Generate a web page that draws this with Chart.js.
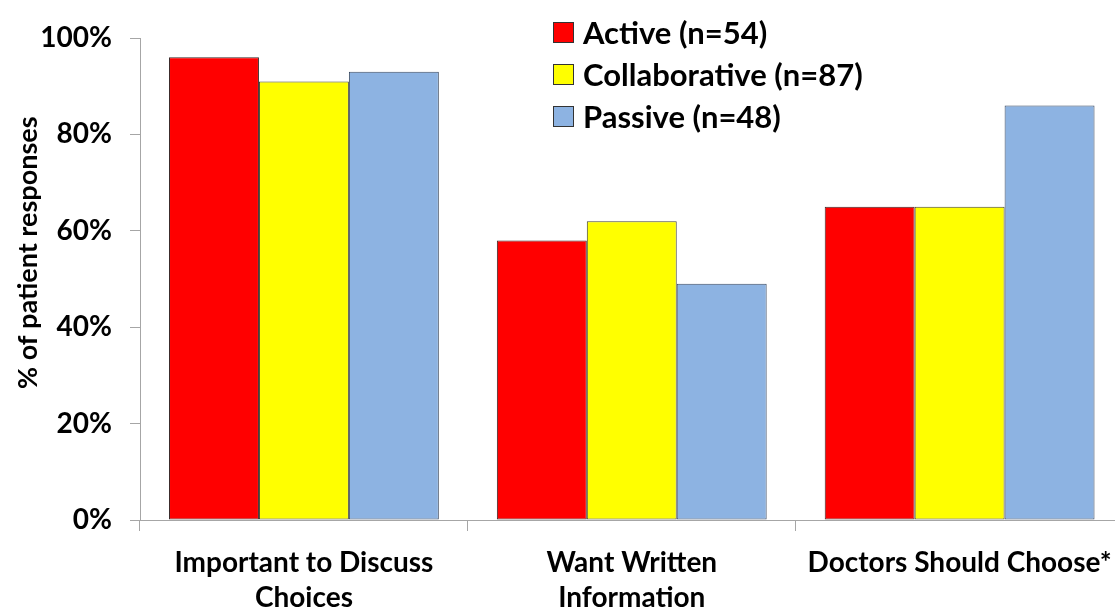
<!DOCTYPE html>
<html>
<head>
<meta charset="utf-8">
<script src="https://cdn.jsdelivr.net/npm/chart.js@4.4.1/dist/chart.umd.min.js"></script>
<style>
    html, body { margin: 0; padding: 0; background: #fff; overflow: hidden; }
    #wrap { position: relative; width: 1126px; height: 610px; }
    #legend { position: absolute; left: 553px; top: 11px; font: bold 31px Lato, sans-serif; color: #000; }
    .row { display: flex; align-items: center; height: 42px; }
    .box { width: 19px; height: 19px; border: 1px solid #333; margin-right: 9px; box-sizing: content-box; }
</style>
</head>
<body>
<div id="wrap">
    <canvas id="barChart"></canvas>
    <div id="legend"></div>
</div>
<script>
var categories = [['Important to Discuss', 'Choices'], ['Want Written', 'Information'], ['Doctors Should Choose*']];
var seriesNames = ['Active (n=54)', 'Collaborative (n=87)', 'Passive (n=48)'];
var activeValues = [96, 58, 65];
var collaborativeValues = [91, 62, 65];
var passiveValues = [93, 49, 86];
var yTickValues = [0, 20, 40, 60, 80, 100];
var seriesColors = ['#ff0000', '#ffff00', '#8db3e2'];
var seriesBorders = ['#3a2a2a', '#444433', '#3b4a60'];

Chart.defaults.font.family = 'Lato, sans-serif';
Chart.defaults.color = '#000';

var seriesData = [activeValues, collaborativeValues, passiveValues];
var datasets = seriesNames.map(function (name, i) {
    return {
        label: name,
        data: seriesData[i],
        backgroundColor: seriesColors[i],
        borderColor: seriesBorders[i],
        borderWidth: 1,
        borderSkipped: false,
        categoryPercentage: 0.823,
        barPercentage: 1.0
    };
});

// legend as plain html, stacked in the top-right of the plot
var legendEl = document.getElementById('legend');
seriesNames.forEach(function (name, i) {
    var row = document.createElement('div');
    row.className = 'row';
    var box = document.createElement('span');
    box.className = 'box';
    box.style.background = seriesColors[i];
    var txt = document.createElement('span');
    txt.textContent = name;
    row.appendChild(box);
    row.appendChild(txt);
    legendEl.appendChild(row);
});

var ctx = document.getElementById('barChart').getContext('2d');
new Chart(ctx, {
    type: 'bar',
    data: {
        labels: categories,
        datasets: datasets
    },
    options: {
        responsive: true,
        maintainAspectRatio: false,
        animation: false,
        layout: { padding: { top: 38, right: 2, left: 0, bottom: 0 } },
        plugins: {
            legend: { display: false },
            tooltip: { enabled: false }
        },
        scales: {
            x: {
                grid: {
                    offset: true,
                    drawOnChartArea: false,
                    color: '#a6a6a6',
                    tickLength: 11
                },
                border: { color: '#a6a6a6', width: 1 },
                ticks: {
                    color: '#000',
                    padding: 14,
                    maxRotation: 0,
                    font: { size: 28, weight: 'bold', lineHeight: 1.25 }
                },
                afterFit: function (scale) { scale.height = 90; }
            },
            y: {
                min: 0,
                max: 100,
                afterBuildTicks: function (scale) {
                    scale.ticks = yTickValues.map(function (v) { return { value: v }; });
                },
                grid: {
                    drawOnChartArea: false,
                    color: '#a6a6a6',
                    tickLength: 10
                },
                border: { color: '#a6a6a6', width: 1 },
                ticks: {
                    color: '#000',
                    padding: 18,
                    font: { size: 28, weight: 'bold' },
                    callback: function (v) { return v + '%'; }
                },
                title: {
                    display: true,
                    // leading spaces nudge the title up a bit, like the original
                    text: '\u00a0\u00a0\u00a0\u00a0\u00a0\u00a0\u00a0\u00a0% of patient responses',
                    color: '#000',
                    padding: { top: 12 },
                    font: { size: 27, weight: 'bold' }
                },
                afterFit: function (scale) { scale.width = 140; }
            }
        }
    }
});
</script>
</body>
</html>
